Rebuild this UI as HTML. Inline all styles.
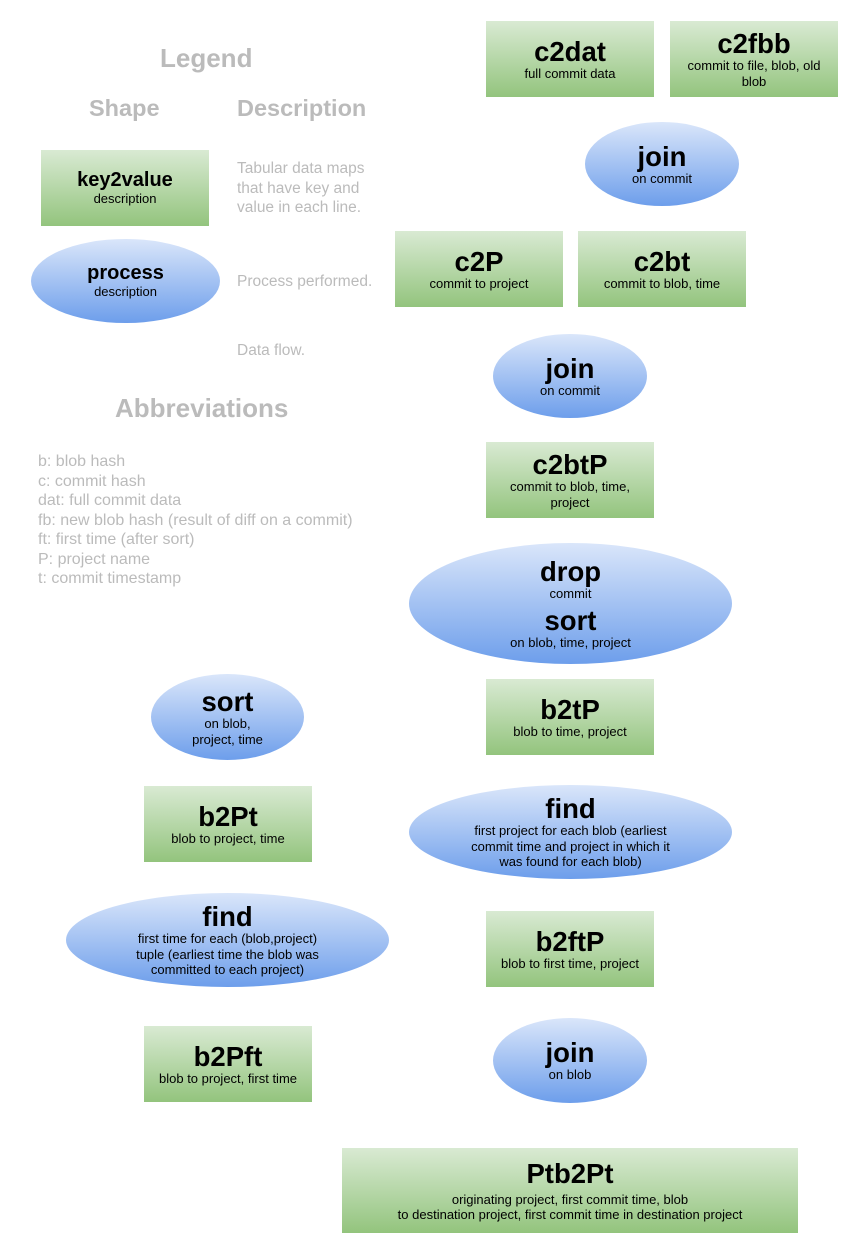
<!DOCTYPE html>
<html><head><style>
body{margin:0;width:866px;height:1253px;background:#fff;position:relative;font-family:"Liberation Sans",Arial,sans-serif;overflow:hidden}
.n{position:absolute;display:flex;flex-direction:column;align-items:center;justify-content:center;text-align:center;color:#000;box-sizing:border-box;padding:0 6px}
.b{background:linear-gradient(#d9ead3,#93c47d)}
.e{background:linear-gradient(#dae6fa,#6d9eeb);border-radius:50%}
.t{font-weight:bold;font-size:27.5px;line-height:29px}
.d{font-size:13px;line-height:15.5px}
.g{position:absolute;color:#bbb;font-size:15.5px;line-height:19.5px}
.h{position:absolute;color:#bbb;font-weight:bold}
</style></head><body>
<div class="h" style="left:160px;top:43px;font-size:26px">Legend</div>
<div class="h" style="left:89px;top:95px;font-size:23.5px">Shape</div>
<div class="h" style="left:237px;top:95px;font-size:23.5px">Description</div>
<div class="n b" style="left:41px;top:150px;width:168px;height:76px"><div class="t" style="font-size:20px;line-height:22px">key2value</div><div class="d">description</div></div>
<div class="g" style="left:237px;top:159px">Tabular data maps<br>that have key and<br>value in each line.</div>
<div class="n e" style="left:31px;top:239px;width:189px;height:84px"><div class="t" style="font-size:20px;line-height:22px">process</div><div class="d">description</div></div>
<div class="g" style="left:237px;top:272px">Process performed.</div>
<div class="g" style="left:237px;top:341px">Data flow.</div>
<div class="h" style="left:115px;top:393px;font-size:26px">Abbreviations</div>
<div class="g" style="left:38px;top:452px;font-size:16px">b: blob hash<br>c: commit hash<br>dat: full commit data<br>fb: new blob hash (result of diff on a commit)<br>ft: first time (after sort)<br>P: project name<br>t: commit timestamp</div>

<div class="n b" style="left:486px;top:21px;width:168px;height:76px"><div class="t">c2dat</div><div class="d">full commit data</div></div>
<div class="n b" style="left:670px;top:21px;width:168px;height:76px;justify-content:flex-start;padding:8px 12px 0"><div class="t">c2fbb</div><div class="d">commit to file, blob, old blob</div></div>
<div class="n e" style="left:585px;top:122px;width:154px;height:84px"><div class="t">join</div><div class="d">on commit</div></div>
<div class="n b" style="left:395px;top:231px;width:168px;height:76px"><div class="t">c2P</div><div class="d">commit to project</div></div>
<div class="n b" style="left:578px;top:231px;width:168px;height:76px"><div class="t">c2bt</div><div class="d">commit to blob, time</div></div>
<div class="n e" style="left:493px;top:334px;width:154px;height:84px"><div class="t">join</div><div class="d">on commit</div></div>
<div class="n b" style="left:486px;top:442px;width:168px;height:76px"><div class="t">c2btP</div><div class="d">commit to blob, time,<br>project</div></div>
<div class="n e" style="left:409px;top:543px;width:323px;height:121px"><div class="t">drop</div><div class="d">commit</div><div class="t" style="margin-top:4px">sort</div><div class="d">on blob, time, project</div></div>
<div class="n b" style="left:486px;top:679px;width:168px;height:76px"><div class="t">b2tP</div><div class="d">blob to time, project</div></div>
<div class="n e" style="left:409px;top:785px;width:323px;height:94px"><div class="t">find</div><div class="d">first project for each blob (earliest<br>commit time and project in which it<br>was found for each blob)</div></div>
<div class="n b" style="left:486px;top:911px;width:168px;height:76px"><div class="t">b2ftP</div><div class="d">blob to first time, project</div></div>
<div class="n e" style="left:493px;top:1018px;width:154px;height:85px"><div class="t">join</div><div class="d">on blob</div></div>
<div class="n b" style="left:342px;top:1148px;width:456px;height:85px"><div class="t">Ptb2Pt</div><div class="d" style="margin-top:4px">originating project, first commit time, blob<br>to destination project, first commit time in destination project</div></div>

<div class="n e" style="left:151px;top:674px;width:153px;height:86px"><div class="t">sort</div><div class="d">on blob,<br>project, time</div></div>
<div class="n b" style="left:144px;top:786px;width:168px;height:76px"><div class="t">b2Pt</div><div class="d">blob to project, time</div></div>
<div class="n e" style="left:66px;top:893px;width:323px;height:94px"><div class="t">find</div><div class="d">first time for each (blob,project)<br>tuple (earliest time the blob was<br>committed to each project)</div></div>
<div class="n b" style="left:144px;top:1026px;width:168px;height:76px"><div class="t">b2Pft</div><div class="d">blob to project, first time</div></div>
</body></html>
